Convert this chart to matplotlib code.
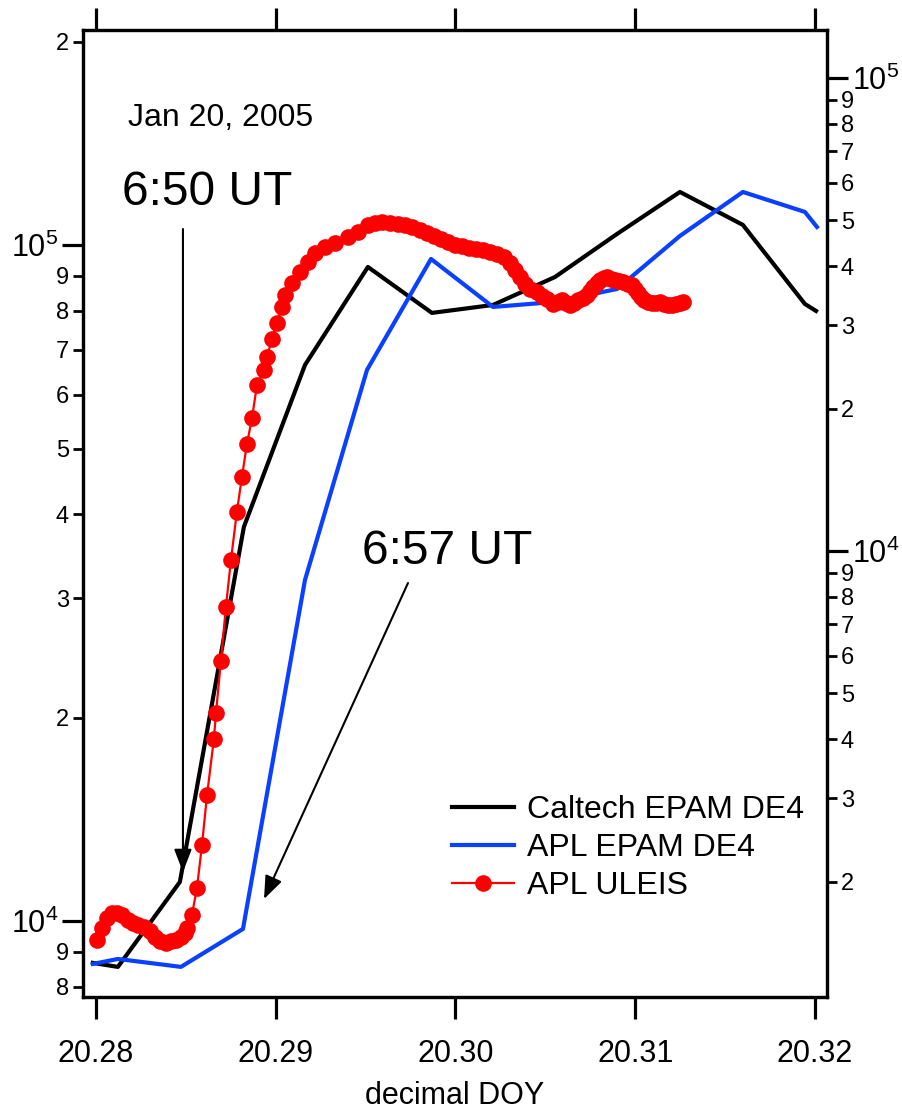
import numpy as np
import matplotlib
matplotlib.use('Agg')
import matplotlib.pyplot as plt
from matplotlib.ticker import LogLocator, FuncFormatter, FixedLocator

plt.rcParams['font.family'] = ['Liberation Sans', 'DejaVu Sans']
plt.rcParams['mathtext.fontset'] = 'custom'
plt.rcParams['mathtext.rm'] = 'Liberation Sans'

# APL ULEIS (left axis):
uleis_doy = [
    20.28006, 20.28033, 20.28061, 20.28089, 20.28117, 20.28145, 20.28178, 20.28206, 20.28234, 20.28267,
    20.28300, 20.28328, 20.28356, 20.28389, 20.28417, 20.28445, 20.28473, 20.28495, 20.28506, 20.28534,
    20.28562, 20.28590, 20.28618, 20.28656, 20.28668, 20.28695, 20.28723, 20.28751, 20.28784, 20.28812,
    20.28840, 20.28868, 20.28896, 20.28935, 20.28951, 20.28979, 20.29007, 20.29035, 20.29051, 20.29090,
    20.29135, 20.29179, 20.29218, 20.29274, 20.29330, 20.29402, 20.29458, 20.29513, 20.29552, 20.29591,
    20.29636, 20.29680, 20.29719, 20.29758, 20.29803, 20.29841, 20.29880, 20.29919, 20.29958, 20.29997,
    20.30036, 20.30075, 20.30114, 20.30153, 20.30192, 20.30231, 20.30270, 20.30303, 20.30331, 20.30359,
    20.30387, 20.30414, 20.30453, 20.30481, 20.30509, 20.30542, 20.30570, 20.30592, 20.30615, 20.30637,
    20.30659, 20.30681, 20.30709, 20.30732, 20.30748, 20.30765, 20.30787, 20.30804, 20.30826, 20.30843,
    20.30865, 20.30887, 20.30910, 20.30932, 20.30960, 20.30982, 20.30999, 20.31015, 20.31032, 20.31049,
    20.31071, 20.31093, 20.31115, 20.31138, 20.31160, 20.31182, 20.31204, 20.31227, 20.31249, 20.31266,
]
uleis_rate = [
    9370, 9760, 10100, 10270, 10270, 10210, 10030, 9930, 9860, 9800,
    9660, 9470, 9340, 9280, 9340, 9370, 9470, 9600, 9760, 10210,
    11190, 12960, 15360, 18580, 20310, 24240, 29140, 34200, 40270, 45370,
    50760, 55460, 62070, 65320, 68260, 72580, 76670, 80960, 84340, 87860,
    91220, 94380, 97310, 99320, 100680, 102760, 104530, 107050, 107780, 108140,
    107780, 107410, 107050, 106320, 105240, 104170, 103110, 102070, 101030, 100000,
    99660, 98980, 98650, 98310, 97640, 96980, 96000, 94060, 91840, 89680,
    87570, 86080, 85210, 84060, 83200, 81800, 82360, 82920, 82080, 81520,
    82080, 82920, 83480, 84340, 85490, 86670, 87860, 88760, 89370, 89680,
    89060, 88760, 88460, 88160, 87570, 87270, 86080, 84900, 83770, 82920,
    82360, 82080, 82080, 82360, 81800, 81520, 81520, 81800, 82080, 82360,
]

# EPAM DE4 (right axis), 5 min samples:
caltech_doy = [20.27983, 20.28122, 20.28467, 20.28823, 20.29163, 20.29513, 20.29869,
               20.30209, 20.30554, 20.30899, 20.31249, 20.31599, 20.31944, 20.32006]
caltech_rate = [1346, 1320, 1996, 11240, 24730, 39850, 31860,
                33120, 37950, 46800, 57410, 48900, 33280, 32170]

apl_doy = [20.27983, 20.28122, 20.28473, 20.28818, 20.29163, 20.29508, 20.29864,
           20.30209, 20.30554, 20.30899, 20.31249, 20.31599, 20.31944, 20.32011]
apl_rate = [1339, 1372, 1320, 1588, 8685, 24140, 41430,
            32800, 33610, 35800, 46350, 57410, 52090, 48420]

x_ticks = [20.28, 20.29, 20.30, 20.31, 20.32]
x_ticklabels = ['20.28', '20.29', '20.30', '20.31', '20.32']


def minor_label(v, pos):
    return '%d' % round(v / 10 ** np.floor(np.log10(v) + 1e-9))


def major_label(v, pos):
    return r'$\mathregular{10^{%d}}$' % round(np.log10(v))


# log axis with Igor style labels:
def style_log_axis(ax, side):
    ax.set_yscale('log')
    ax.yaxis.set_major_locator(LogLocator(base=10))
    ax.yaxis.set_minor_locator(LogLocator(base=10, subs=np.arange(2, 10)))
    ax.yaxis.set_major_formatter(FuncFormatter(major_label))
    ax.yaxis.set_minor_formatter(FuncFormatter(minor_label))
    kw = dict(axis='y', direction='out', left=(side == 'left'), right=(side == 'right'),
              labelleft=(side == 'left'), labelright=(side == 'right'))
    ax.tick_params(which='major', length=15, width=2.3, labelsize=22, pad=3, **kw)
    ax.tick_params(which='minor', length=7.5, width=2.0, labelsize=17, pad=2.5, **kw)


def main():
    fig = plt.figure(figsize=(9.03, 11.09), dpi=100)
    ax = fig.add_axes([83 / 903, 1 - 997 / 1109, 744 / 903, 967 / 1109])
    ax2 = ax.twinx()

    ax.set_xlim(20.27928, 20.32067)
    ax.set_ylim(7720, 208000)
    ax2.set_ylim(1140, 126300)

    style_log_axis(ax, 'left')
    style_log_axis(ax2, 'right')

    ax.xaxis.set_major_locator(FixedLocator(x_ticks))
    ax.set_xticklabels(x_ticklabels)
    ax.tick_params(axis='x', which='major', direction='out', top=True, bottom=True,
                   length=16, width=2.3, labelsize=22, pad=14)
    ax.tick_params(axis='x', which='minor', top=False, bottom=False)
    ax.set_xlabel('decimal DOY', fontsize=22, labelpad=9)

    for a in (ax, ax2):
        for s in a.spines.values():
            s.set_linewidth(2.3)

    # data:
    l1, = ax2.plot(caltech_doy, caltech_rate, color='black', lw=3, label='Caltech EPAM DE4')
    l2, = ax2.plot(apl_doy, apl_rate, color='#0a40ff', lw=3, label='APL EPAM DE4')
    l3, = ax.plot(uleis_doy, uleis_rate, color='#ff0000', lw=1.6, marker='o', ms=12,
                  markeredgewidth=0, label='APL ULEIS', zorder=3)
    ax.set_zorder(ax2.get_zorder() + 1)
    ax.patch.set_visible(False)

    # annotations:
    ax.text(0.0605, 0.9007, 'Jan 20, 2005', transform=ax.transAxes, fontsize=23, va='baseline')
    ax.text(0.0524, 0.819, '6:50 UT', transform=ax.transAxes, fontsize=34.5, va='baseline')
    ax.text(0.375, 0.4478, '6:57 UT', transform=ax.transAxes, fontsize=34.5, va='baseline')
    arrow = dict(arrowstyle='-|>,head_length=0.7,head_width=0.27', color='black', lw=1.5,
                 mutation_scale=20, shrinkA=0, shrinkB=0)
    ax.annotate('', xy=(20.28484, 11814), xytext=(20.28484, 105600), arrowprops=arrow)
    ax.annotate('', xy=(20.28935, 10778), xytext=(20.29736, 31623), arrowprops=arrow)

    ax.legend(handles=[l1, l2, l3], loc='upper left', bbox_to_anchor=(0.496, 0.209),
              frameon=False, fontsize=23, handlelength=1.95, handletextpad=0.4,
              labelspacing=0.25, borderpad=0, borderaxespad=0)

    fig.savefig('out.png', dpi=100)


if __name__ == "__main__":
    main()
